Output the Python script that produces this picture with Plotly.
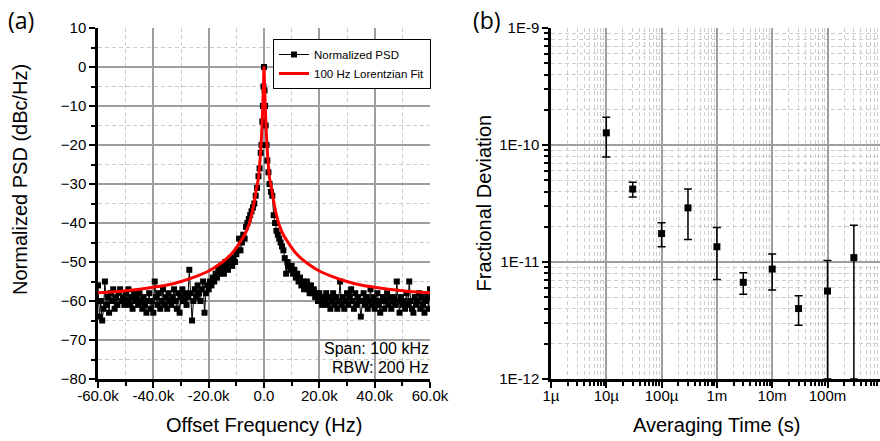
import plotly.graph_objects as go

# ---------------- Panel (a) data ----------------
# left wing, -60.0 kHz .. -3.0 kHz (0.5 kHz steps)
psd_left_db = [
    -56, -64, -60, -65, -62, -55, -61, -59, -63, -58,
    -60, -57, -62, -59, -61, -58, -57, -60, -59, -61,
    -58, -60, -57, -61, -59, -62, -58, -60, -59, -61,
    -58, -60, -62, -59, -61, -63, -60, -58, -62, -60,
    -63, -55, -59, -61, -58, -62, -60, -57, -61, -59,
    -62, -58, -60, -61, -59, -57, -60, -62, -58, -63,
    -59, -57, -60, -58, -61, -59, -52, -58, -65, -60,
    -57, -59, -56, -58, -60, -57, -55, -63, -58, -56,
    -57, -55, -56, -54, -55, -53, -54, -52, -53, -51,
    -52, -53, -50, -51, -52, -50, -49, -51, -49, -50,
    -48, -47, -44, -47, -45, -43, -44, -41, -40, -39,
    -38, -37, -36, -35, -33,
]
# centre, -2.5 kHz .. 2.5 kHz
psd_center_khz = [-2.5, -2.0, -1.6, -1.2, -0.9, -0.6, -0.4, -0.2, 0.0,
                  0.2, 0.4, 0.6, 0.9, 1.2, 1.6, 2.0, 2.5]
psd_center_db = [-31, -28, -26, -22, -20, -14, -10, -5, 0,
                 -6, -10, -15, -20, -24, -27, -30, -32]
# right wing, 3.0 kHz .. 60.0 kHz (0.5 kHz steps)
psd_right_db = [
    -33, -38, -40, -42, -43, -44, -45, -46, -47, -49,
    -53, -50, -51, -52, -51, -53, -52, -54, -53, -55,
    -54, -56, -55, -57, -56, -55, -57, -58, -56, -58,
    -57, -59, -58, -60, -58, -59, -61, -59, -60, -58,
    -61, -59, -62, -60, -58, -61, -59, -62, -60, -55,
    -61, -59, -62, -60, -58, -61, -59, -57, -60, -62,
    -58, -61, -59, -60, -64, -60, -58, -61, -59, -62,
    -60, -57, -61, -59, -62, -60, -58, -61, -63, -60,
    -59, -62, -60, -58, -61, -59, -62, -60, -59, -61,
    -55, -60, -63, -59, -61, -60, -62, -58, -61, -55,
    -60, -62, -63, -59, -61, -60, -58, -62, -59, -61,
    -63, -60, -59, -62, -57,
]
psd_left_khz = [round(-60.0 + 0.5 * i, 1) for i in range(len(psd_left_db))]
psd_right_khz = [round(3.0 + 0.5 * i, 1) for i in range(len(psd_right_db))]
psd_freq_khz = psd_left_khz + psd_center_khz + psd_right_khz
psd_db = psd_left_db + psd_center_db + psd_right_db

fit_freq_khz = [-60, -55, -50, -45, -40, -35, -30, -25, -20, -16, -13, -11, -9, -7,
                -5.5, -4.5, -3.5, -2.7, -2, -1.5, -1, -0.75, -0.5, -0.3, -0.15, 0,
                0.15, 0.3, 0.5, 0.75, 1, 1.5, 2, 2.7, 3.5, 4.5, 5.5, 7, 9, 11, 13,
                16, 20, 25, 30, 35, 40, 45, 50, 55, 60]
fit_db = [-57.9, -57.7, -57.4, -57.0, -56.5, -55.9, -55.0, -53.8, -52.3, -50.5, -48.8,
          -47.3, -45.3, -43.0, -40.5, -38.0, -34.5, -31.0, -28.5, -24.5, -19.0, -15.5,
          -11.0, -7.0, -3.5, 0.0, -3.5, -7.0, -11.0, -15.5, -19.0, -24.5, -28.5, -31.0,
          -34.5, -38.0, -40.5, -43.0, -45.3, -47.3, -48.8, -50.5, -52.3, -53.8, -55.0,
          -55.9, -56.5, -57.0, -57.4, -57.7, -57.9]

x_a_ticks = [-60, -40, -20, 0, 20, 40, 60]
x_a_labels = ["-60.0k", "-40.0k", "-20.0k", "0.0", "20.0k", "40.0k", "60.0k"]

# ---------------- Panel (b) data ----------------
tau_s = [1e-5, 3e-5, 1e-4, 3e-4, 1e-3, 3e-3, 1e-2, 3e-2, 1e-1, 3e-1]
frac_dev = [1.27e-10, 4.2e-11, 1.75e-11, 2.9e-11, 1.35e-11, 6.7e-12, 8.7e-12, 4.0e-12, 5.65e-12, 1.09e-11]
frac_dev_upper = [1.73e-10, 4.8e-11, 2.16e-11, 4.2e-11, 1.97e-11, 8.1e-12, 1.17e-11, 5.15e-12, 1.03e-11, 2.06e-11]
frac_dev_lower = [7.9e-11, 3.6e-11, 1.35e-11, 1.56e-11, 7.1e-12, 5.3e-12, 5.75e-12, 2.88e-12, 1.0e-12, 1.0e-12]

x_b_ticks = [1e-6, 1e-5, 1e-4, 1e-3, 1e-2, 1e-1]
x_b_labels = ["1µ", "10µ", "100µ", "1m", "10m", "100m"]
y_b_ticks = [1e-12, 1e-11, 1e-10, 1e-9]
y_b_labels = ["1E-12", "1E-11", "1E-10", "1E-9"]

# ---------------- figure ----------------
FONT = "Liberation Sans, Arial, sans-serif"
W, H = 880, 441
GRID = "#9e9e9e"
MINOR = "#cccccc"

fig = go.Figure()

fig.add_trace(go.Scatter(
    x=psd_freq_khz, y=psd_db, mode="lines+markers", name="Normalized PSD",
    line=dict(color="black", width=1),
    marker=dict(symbol="square", size=6, color="black"),
    xaxis="x", yaxis="y",
))
fig.add_trace(go.Scatter(
    x=fit_freq_khz, y=fit_db, mode="lines", name="100 Hz Lorentzian Fit",
    line=dict(color="#ff0000", width=3, shape="spline", smoothing=0.6),
    xaxis="x", yaxis="y",
))

err_plus = [u - v for u, v in zip(frac_dev_upper, frac_dev)]
err_minus = [v - l for v, l in zip(frac_dev, frac_dev_lower)]
fig.add_trace(go.Scatter(
    x=tau_s, y=frac_dev, mode="markers", showlegend=False,
    marker=dict(symbol="square", size=7, color="black"),
    error_y=dict(type="data", array=err_plus, arrayminus=err_minus,
                 color="black", thickness=1.5, width=4),
    xaxis="x2", yaxis="y2",
))

ydom = [1 - 379 / H, 1 - 28 / H]

common = dict(
    showline=True, linecolor="black", linewidth=2.5, mirror=False,
    ticks="outside", ticklen=6, tickwidth=2, tickcolor="black",
    showgrid=True, gridcolor=GRID, gridwidth=1.8, zeroline=False,
    automargin=False,
    tickfont=dict(family=FONT, size=15, color="black"),
)

minor_lin = dict(ticks="outside", ticklen=4, tickwidth=2, tickcolor="black",
                 showgrid=True, gridcolor=MINOR, gridwidth=1, griddash="4px,3px")

log_minor_x = [m * 10 ** e for e in range(-6, 0) for m in range(2, 10)]
log_minor_y = [m * 10 ** e for e in range(-12, -9) for m in range(2, 10)]

fig.update_layout(
    template="none",
    width=W, height=H, autosize=False,
    margin=dict(l=0, r=0, t=0, b=0, pad=0),
    paper_bgcolor="white", plot_bgcolor="white",
    font=dict(family=FONT, color="black"),
    xaxis=dict(domain=[98 / W, 430 / W], range=[-60, 60], anchor="y",
               tickmode="array", tickvals=x_a_ticks, ticktext=x_a_labels,
               ticklabelstandoff=-5,
               minor=dict(dtick=10, tick0=0, **minor_lin), **common),
    yaxis=dict(domain=ydom, range=[-80, 10], anchor="x",
               tickmode="linear", tick0=0, dtick=10,
               minor=dict(dtick=5, tick0=0, **minor_lin), **common),
    xaxis2=dict(domain=[551 / W, 1.0], type="log", range=[-6, -6 + (880 - 551) / 55.3],
                anchor="y2", tickmode="array", tickvals=x_b_ticks, ticktext=x_b_labels,
                ticklabelstandoff=-5,
                minor=dict(tickmode="array", tickvals=log_minor_x, **minor_lin), **common),
    yaxis2=dict(domain=ydom, type="log", range=[-12, -9], anchor="x2",
                tickmode="array", tickvals=y_b_ticks, ticktext=y_b_labels,
                minor=dict(tickmode="array", tickvals=log_minor_y, **minor_lin), **common),
    legend=dict(x=431 / W, xanchor="right", y=1 - 39 / H, yanchor="top",
                bgcolor="white", bordercolor="black", borderwidth=1,
                font=dict(family=FONT, size=11.5, color="black"),
                itemwidth=30, tracegroupgap=0),
    showlegend=True,
)

annos = [
    dict(text="Span: 100 kHz", x=431 / W, y=1 - 348 / H, xanchor="right", yanchor="middle", size=16),
    dict(text="RBW: 200 Hz", x=431 / W, y=1 - 367 / H, xanchor="right", yanchor="middle", size=16),
    dict(text="Normalized PSD (dBc/Hz)", x=20 / W, y=1 - 180 / H, xanchor="center", yanchor="middle", size=20, angle=-90),
    dict(text="Offset Frequency (Hz)", x=264 / W, y=1 - 425 / H, xanchor="center", yanchor="middle", size=20),
    dict(text="Fractional Deviation", x=483 / W, y=1 - 203.5 / H, xanchor="center", yanchor="middle", size=20, angle=-90),
    dict(text="Averaging Time (s)", x=716.7 / W, y=1 - 425 / H, xanchor="center", yanchor="middle", size=20),
]
for a in annos:
    fig.add_annotation(
        text=a["text"], xref="paper", yref="paper", x=a["x"], y=a["y"],
        xanchor=a["xanchor"], yanchor=a["yanchor"], showarrow=False,
        textangle=a.get("angle", 0),
        font=dict(family=FONT, size=a["size"], color="black"),
    )

for lbl, xpos in (("(a)", 6 / W), ("(b)", 471 / W)):
    fig.add_annotation(
        text=lbl, xref="paper", yref="paper", x=xpos, y=1 - 20 / H,
        xanchor="left", yanchor="middle", showarrow=False,
        font=dict(family="Open Sans, Lato, sans-serif", size=23, color="black"),
    )

fig.write_html("out.html")
